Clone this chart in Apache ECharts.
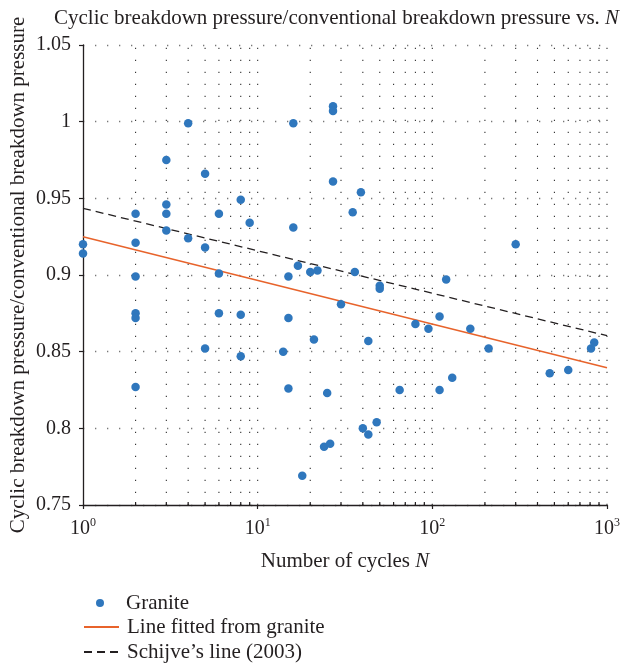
<!DOCTYPE html>
<html>
<head>
<meta charset="utf-8">
<script src="https://cdn.jsdelivr.net/npm/echarts@6/dist/echarts.min.js"></script>
<style>
html,body{margin:0;padding:0;background:#fff;}
#chart{width:634px;height:665px;}
</style>
</head>
<body>
<div id="chart"></div>
<script>
// ---- data ----
var graniteN = [1,1, 2,2,2,2,2,2, 3,3,3,3, 4,4, 5,5,5, 6,6,6, 8,8,8, 9, 14, 15,15,15, 16,16, 17, 18, 20, 21, 22, 24, 25, 26, 27,27,27, 30, 35, 36, 39, 40, 43,43, 48, 50,50, 65, 80, 95, 110,110, 120, 130, 165, 210, 300, 470, 600, 810, 845];
var graniteY = [0.920,0.914, 0.940,0.921,0.899,0.875,0.872,0.827, 0.975,0.946,0.940,0.929, 0.999,0.924, 0.966,0.918,0.852, 0.940,0.901,0.875, 0.949,0.874,0.847, 0.934, 0.850, 0.899,0.872,0.826, 0.999,0.931, 0.906, 0.769, 0.902, 0.858, 0.903, 0.788, 0.823, 0.790, 1.010,1.007,0.961, 0.881, 0.941, 0.902, 0.954, 0.800, 0.857,0.796, 0.804, 0.893,0.891, 0.825, 0.868, 0.865, 0.873,0.825, 0.897, 0.833, 0.865, 0.852, 0.920, 0.836, 0.838, 0.852, 0.856];
var fitN = [1, 1000];
var fitY = [0.925, 0.8395];
var schijveN = [1, 1000];
var schijveY = [0.9435, 0.8604];
var xMinorTicks = [2,3,4,5,6,7,8,9, 20,30,40,50,60,70,80,90, 200,300,400,500,600,700,800,900];
var xGridValues = [2,3,4,5,6,7,8,9,10, 20,30,40,50,60,70,80,90,100, 200,300,400,500,600,700,800,900,1000];
var X_MIN = 1, X_MAX = 1000;
var Y_MIN = 0.75, Y_MAX = 1.05, Y_STEP = 0.05;
var seriesNames = ['Granite', 'Line fitted from granite', 'Schijve\u2019s line (2003)'];
var titleText = 'Cyclic breakdown pressure/conventional breakdown pressure vs. ';
var yTitle = 'Cyclic breakdown pressure/conventional breakdown pressure';
var xTitle = 'Number of cycles ';

function zip(a, b) { return a.map(function (v, i) { return [v, b[i]]; }); }

var FONT = '"Liberation Serif", "DejaVu Serif", serif';
var TXT = '#231f20';
var BLUE = '#2f77bd';
var ORANGE = '#e8632b';
var FS = 21;

var chart = echarts.init(document.getElementById('chart'), null, {renderer: 'canvas'});

function legendCfg(name, left, top, w, h, padLeft, hideSymbol) {
  var cfg = {
    data: [name], orient: 'vertical', left: left, top: top, padding: 0,
    itemWidth: w, itemHeight: h, selectedMode: false,
    textStyle: {fontFamily: FONT, fontSize: FS, color: TXT, lineHeight: 22, padding: [0, 0, 0, padLeft]}
  };
  if (hideSymbol) { cfg.itemStyle = {opacity: 0}; }
  return cfg;
}

var option = {
  backgroundColor: '#fff',
  animation: false,
  textStyle: {fontFamily: FONT, color: TXT},
  title: {
    text: titleText + '{i|N}',
    left: 54,
    top: 7,
    padding: 0,
    textStyle: {
      fontFamily: FONT, fontSize: FS, fontWeight: 'normal', color: TXT, lineHeight: 22,
      rich: {i: {fontFamily: FONT, fontSize: FS, fontStyle: 'italic', color: TXT, lineHeight: 22}}
    }
  },
  grid: {left: 83, right: 27, top: 45, bottom: 160, containLabel: false, outerBoundsMode: 'none'},
  legend: [
    legendCfg(seriesNames[0], 96, 592, 8, 8, 17, false),
    legendCfg(seriesNames[1], 83, 616, 35, 14, 3, true),
    legendCfg(seriesNames[2], 83, 641, 35, 14, 3, true)
  ],
  xAxis: {
    type: 'log', logBase: 10, min: X_MIN, max: X_MAX,
    name: xTitle + '{i|N}', nameLocation: 'middle', nameGap: 45, nameMoveOverlap: false,
    nameTextStyle: {
      fontFamily: FONT, fontSize: FS, color: TXT, lineHeight: 22,
      rich: {i: {fontFamily: FONT, fontSize: FS, fontStyle: 'italic', color: TXT, lineHeight: 22}}
    },
    axisLine: {show: true, onZero: false, lineStyle: {color: '#231f20', width: 1.3}},
    axisTick: {show: true, inside: false, length: 4, lineStyle: {color: '#231f20', width: 1.2}},
    axisLabel: {
      margin: 12,
      formatter: function (v) {
        var e = Math.round(Math.log(v) / Math.LN10);
        return '{a|10}{b|' + e + '}';
      },
      rich: {
        a: {fontFamily: FONT, fontSize: 20, color: TXT},
        b: {fontFamily: FONT, fontSize: 12, color: TXT, padding: [0, 0, 12, 0]}
      }
    },
    splitLine: {show: false}
  },
  yAxis: {
    type: 'value', min: Y_MIN, max: Y_MAX, interval: Y_STEP,
    name: yTitle, nameLocation: 'middle', nameRotate: 90, nameGap: 54, nameMoveOverlap: false,
    nameTextStyle: {fontFamily: FONT, fontSize: FS, color: TXT},
    axisLine: {show: true, lineStyle: {color: '#231f20', width: 1.3}},
    axisTick: {show: true, inside: false, length: 4, lineStyle: {color: '#231f20', width: 1.2}},
    axisLabel: {margin: 12, fontFamily: FONT, fontSize: 20, color: TXT},
    splitLine: {show: true, lineStyle: {color: '#777', width: 1.3, type: [1.3, 10.7]}}
  },
  series: [
    {
      name: 'grid-verticals', type: 'custom', silent: true, z: 1,
      data: xGridValues.map(function (v) { return [v]; }),
      encode: {x: 0},
      renderItem: function (params, api) {
        var v = api.value(0);
        var p1 = api.coord([v, Y_MIN]);
        var p2 = api.coord([v, Y_MAX]);
        return {
          type: 'line',
          shape: {x1: p1[0], y1: p1[1], x2: p2[0], y2: p2[1]},
          style: {stroke: '#333', lineWidth: 1.1, lineDash: [1.2, 10.8]}
        };
      }
    },
    {
      name: 'minor-ticks', type: 'custom', silent: true, z: 4, clip: false,
      data: xMinorTicks.map(function (v) { return [v]; }),
      encode: {x: 0},
      renderItem: function (params, api) {
        var v = api.value(0);
        var p = api.coord([v, Y_MIN]);
        return {
          type: 'line',
          shape: {x1: p[0], y1: p[1], x2: p[0], y2: p[1] - 3},
          style: {stroke: '#231f20', lineWidth: 1.2}
        };
      }
    },
    {
      name: seriesNames[2], type: 'line', z: 2,
      data: zip(schijveN, schijveY),
      symbol: 'none', showSymbol: false,
      lineStyle: {color: '#231f20', width: 1.3, type: [8, 5]},
      itemStyle: {color: '#231f20'}
    },
    {
      name: seriesNames[1], type: 'line', z: 2,
      data: zip(fitN, fitY),
      symbol: 'none', showSymbol: false,
      lineStyle: {color: ORANGE, width: 1.5},
      itemStyle: {color: ORANGE}
    },
    {
      name: seriesNames[0], type: 'scatter', z: 5,
      data: zip(graniteN, graniteY),
      symbol: 'circle', symbolSize: 8.5,
      itemStyle: {color: BLUE, opacity: 1}
    }
  ]
};
chart.setOption(option);
</script>
</body>
</html>
